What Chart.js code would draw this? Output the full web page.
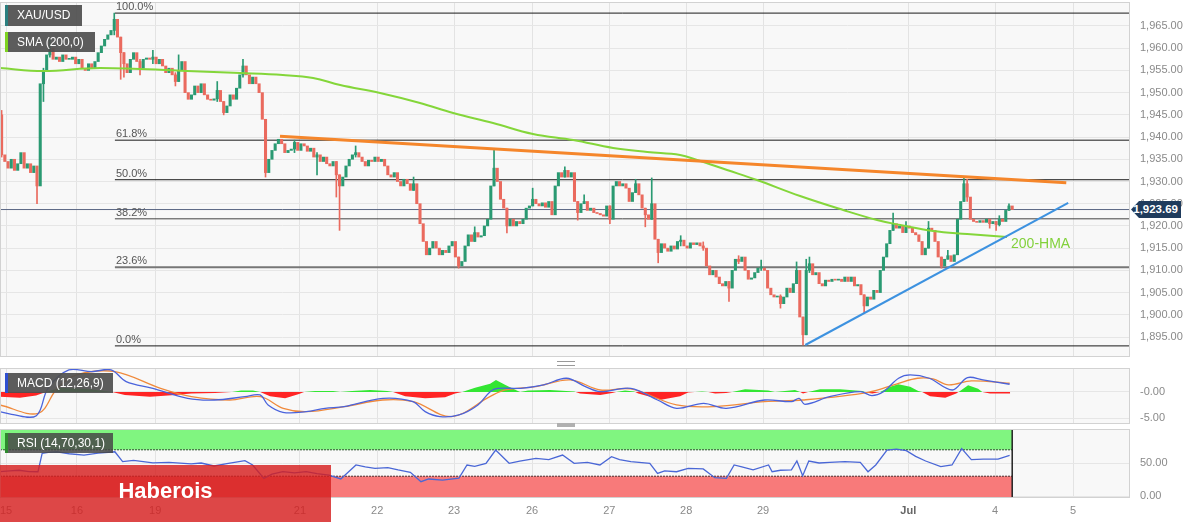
<!DOCTYPE html>
<html><head><meta charset="utf-8">
<script src="https://cdn.jsdelivr.net/npm/chart.js@4.4.0/dist/chart.umd.min.js"></script>
<style>
html,body{margin:0;padding:0;background:#fff;}
#wrap{position:relative;width:1200px;height:523px;overflow:hidden;font-family:"Liberation Sans",Arial,sans-serif;}
canvas{position:absolute;left:0;}
.box{position:absolute;left:5px;height:20px;background:rgba(80,80,80,0.93);color:#fff;font-size:12px;line-height:20px;padding-left:9px;box-sizing:border-box;border-left:3px solid #2a7f7f;white-space:nowrap;}
.fib{position:absolute;font-size:11px;color:#555;line-height:11px;white-space:nowrap;}
#tag{position:absolute;left:1131px;width:50px;height:17px;background:#1f3b5c;color:#fff;font-size:11.5px;font-weight:bold;line-height:17px;text-align:right;padding-right:3px;box-sizing:border-box;clip-path:polygon(0 50%,8px 0,100% 0,100% 100%,8px 100%);}
#hma{position:absolute;font-size:14px;color:#82d13c;white-space:nowrap;}
#hab{position:absolute;left:0;top:465px;width:331px;height:57px;background:rgba(214,30,30,0.82);color:#fff;font-size:22px;font-weight:bold;line-height:52px;text-align:center;}
.hdl{position:absolute;left:557px;width:18px;}
</style></head>
<body><div id="wrap">
<canvas id="cMain" width="1200" height="358" style="top:0"></canvas>
<canvas id="cMacd" width="1200" height="60" style="top:366px"></canvas>
<canvas id="cRsi" width="1200" height="96" style="top:427px"></canvas>
<div class="hdl" style="top:361px;height:3px;border-top:1px solid #999;border-bottom:1px solid #999;"></div>
<div class="hdl" style="top:423px;height:4px;background:#b0b0b0;"></div>
<div class="box" style="top:5px;width:77px;height:21px;line-height:21px;border-left-color:#2a7f7f;">XAU/USD</div>
<div class="box" style="top:32px;width:90px;border-left-color:#7ed321;">SMA (200,0)</div>
<div class="box" style="top:373px;width:108px;border-left-color:#2f4fd0;">MACD (12,26,9)</div>
<div class="box" style="top:433px;width:108px;background:rgba(70,70,70,0.85);border-left-color:#2e8b2e;">RSI (14,70,30,1)</div>
<div id="fibLabels"></div>
<div id="tag"></div>
<div id="hma">200-HMA</div>
<div id="hab">Haberois</div>
</div>
<script>
// ---------- data ----------
const tickPos=[1.4,23.4,47.7,92.7,116.7,140.6,164.8,188.8,212.7,236.6,281.7,308.7,332.9];
const tickLabels=['15','16','19','21','22','23','26','27','28','29','Jul','4','5'];
const priceTicks=[1895,1900,1905,1910,1915,1920,1925,1930,1935,1940,1945,1950,1955,1960,1965];
const macdTicks=[-5,0];
const macdTickLabels=['-5.00','-0.00'];
const rsiTicks=[0,50];
const rsiTickLabels=['0.00','50.00'];

const firstOpen=1945;
const closes=[
1936,1934.5,1933,1935,1932.5,1934,1936.5,1933,1934,1932,
1933.5,1929,1952,1955,1958.5,1960,1957.5,1958,1957,1958.5,
1957.5,1957.5,1958,1956.5,1957.5,1955.5,1955,1956.5,1955.5,1957,
1959,1960.5,1962,1963,1964,1966.5,1962.5,1959,1956.5,1954.5,
1957.5,1959,1957,1955.5,1957.5,1957.8,1957.5,1958,1956.5,1957.5,
1956,1954.5,1955.5,1954,1952.5,1955,1957,1950,1948.5,1949.5,
1951.5,1950,1952,1949.5,1948.5,1948.3,1948.6,1950.5,1948,1945.5,
1947,1949.5,1948.5,1951,1954,1956,1954,1952,1953.5,1952,
1950,1944,1932,1935,1937,1938.5,1939.5,1938.5,1936.5,1937,
1937.3,1938.8,1937,1938.5,1938,1936.8,1937.5,1935.5,1936,1934.5,
1935.5,1934,1933.5,1934.5,1931.5,1929,1931,1933.5,1935,1936,
1936.5,1935.5,1934.5,1933.5,1934.8,1934.5,1935.5,1934.5,1935,1933.5,
1931.5,1931,1932,1930,1929,1930.5,1929.5,1928,1929.5,1925,
1920.5,1916.5,1913.5,1915,1916.5,1915,1913.5,1914.5,1914,1915.5,
1916.5,1913,1911,1912,1915.5,1918,1916.5,1918.5,1917.5,1917.8,
1920,1921.5,1929,1933,1930,1926,1924,1920,1921.5,1920,
1921,1920.5,1921.5,1924,1924.5,1926,1925,1924.5,1925.2,1924.2,
1925.5,1922.5,1929,1932,1931,1932.5,1931,1932,1925.5,1923,
1925,1925.5,1923.5,1924,1923,1922.8,1922.5,1922.2,1924.5,1921.5,
1929,1930,1929,1929.5,1928.5,1925.5,1927.5,1929.5,1927,1924,
1922.5,1921.5,1925,1917,1914,1916,1915,1914.3,1915.5,1914.8,
1916.5,1916.8,1915.5,1915,1916.2,1915.8,1916.2,1915.5,1915,1911,
1909,1910,1908.5,1907,1906.5,1907.5,1906,1910,1912.5,1912,
1913,1910,1908,1908.3,1909.5,1910.5,1910.5,1910,1906,1904.5,
1904,1904.2,1902.5,1904,1906,1905,1907,1910,1899.5,1895.5,
1910,1911.5,1909,1909.5,1907,1906.5,1907.8,1907.5,1908,1907.8,
1908,1907.5,1908.5,1907.5,1908.5,1906.5,1906.8,1904.5,1902,1904,
1903.5,1905.5,1905,1910,1913,1916,1919,1920.5,1919.5,1920,
1918.5,1920,1919.5,1918.5,1918,1916.5,1913.5,1915,1919.5,1919,
1916.5,1913,1911,1912.5,1913.3,1912,1913.5,1921.5,1925.5,1929.5,
1926.5,1921.5,1921,1920.8,1921.2,1920.8,1921.5,1920.5,1921,1920.3,
1921.5,1921,1923.5,1924.5,1923.69];
// [candle index, high, low] for visible wicks
const wicks=[
[0,1946,1935.5],[11,1931,1925],[13,1955.5,1948],[15,1962,1958],[35,1967.9,1963],[37,1962.5,1953],[38,1959,1953.5],[43,1957.5,1954],[47,1959.5,1956.5],[54,1954.5,1951.5],[55,1958.5,1952.5],[67,1952.5,1948],[69,1948,1945],[75,1957.5,1953.5],[82,1944,1931],[91,1939.3,1936.5],[98,1936.5,1931.5],[104,1934.5,1926.5],[105,1931.5,1919],[110,1938,1935.5],[128,1931,1928],[142,1913,1910.5],[147,1919.8,1916.5],[153,1937,1929],[157,1924,1918.4],[165,1928.5,1924.5],[175,1933.3,1931],[179,1925.5,1921.3],[181,1927,1925],[189,1924.5,1920.5],[197,1930.5,1927.5],[200,1924,1919.8],[202,1930.8,1921.5],[204,1917,1911.7],[211,1917.8,1915.5],[218,1916.4,1914.5],[226,1907.5,1903],[229,1913.3,1911.5],[236,1912.3,1910],[242,1904.5,1901.5],[247,1911.9,1907],[249,1899.5,1893.2],[250,1912.5,1895.5],[251,1913,1909.5],[268,1904.5,1900.5],[277,1922.9,1919],[281,1921,1918.5],[288,1921,1915],[292,1913,1910.5],[294,1914.5,1912.5],[299,1930.8,1925.5],[300,1930.5,1925.5],[307,1921.5,1919.5],[309,1921,1919],[310,1922.3,1920],[313,1925,1923.5]];

const smaX=[-0.5,12.9,30.6,57.6,74.1,87.4,96.8,105.2,117.6,130,140.3,152.7,165.1,177.6,190,200.6,210.8,216.1,225.4,234.7,248.1,261.5,272,279.2,289.4,300,312.4];
const smaY=[1955.55,1954.87,1955.55,1954.87,1954.42,1953.97,1953.3,1951.72,1949.92,1947.67,1945.42,1943.17,1940.69,1939.34,1937.54,1936.64,1935.97,1934.84,1932.59,1930.34,1926.74,1923.59,1921.34,1920.21,1918.86,1918.19,1917.51];

const fibLabels=['100.0%','61.8%','50.0%','38.2%','23.6%','0.0%'];
const fibPrices=[1967.9,1939.3,1930.4,1921.6,1910.7,1893.0];
const fibStart=35.2;
const lastPrice=1923.69;
const resistX=[86.5,330.8], resistY=[1940.2,1929.7];
const supportX=[249.7,331.4], supportY=[1893.2,1925.2];

const macdX=[-0.5,3.1,10.8,14.4,20.9,28,34,38.7,47,57.8,66.1,75.6,80.3,82.8,87.4,94.6,100.5,106.4,118.5,127.8,131.6,136.2,142.1,148,151.8,154.1,161.3,168.4,175.5,181.4,186,195.5,203.8,209.7,218.1,225.2,237.1,245.4,247.8,249.6,257.3,266.8,270.4,274,278.7,282.3,288.2,295.4,300.1,304.9,313.2];
const macdY=[-3.78,-4.3,-4.55,0.7,4.23,3.9,4.23,1.99,0.7,-1.22,-1.54,-0.9,-0.58,-2.5,-3.9,-3.78,-3.14,-2.82,-1.22,-1.86,-3.78,-4.74,-4.42,-2.5,0.06,0.7,0.7,1.35,2.63,1.03,0.06,0.7,-1.54,-3.14,-2.18,-3.14,-1.54,-1.86,-1.22,-2.37,-0.9,0.06,-0.7,0.06,2.63,3.27,2.63,0.38,2.76,2.31,1.48];
const signalX=[-0.5,11.4,17.3,23.3,35.2,49.4,59,70.9,80.4,87.5,94.7,106.5,118.4,127.9,139.8,151.7,156.5,166,176.7,186,195.5,209.7,221.6,237.1,249,269.2,278.7,284.6,289.4,294.2,301.3,313.2];
const signalY=[-2.5,-4.1,0.7,3.27,3.91,0.7,-0.9,-1.54,-0.9,-3.14,-3.78,-2.82,-1.54,-1.86,-4.74,-0.9,0.38,1.03,2.31,0.38,0.58,-2.5,-2.82,-1.86,-1.54,-0.06,1.67,2.63,2.5,1.35,2.12,1.67];
const histX=[-0.5,5.7,10.7,13.8,18.1,27.5,34.3,38.3,46.1,53.9,58.9,66.3,71.6,74.4,78.1,80.3,83.4,88.1,92.4,94,97.4,103,105.2,108.9,114.5,119.8,121.6,125.4,131.6,137.8,140.9,143.1,147.1,151.8,153.6,156.4,158.9,161.1,163.6,170.4,177.9,179.7,186,189.7,191,193.7,196.5,197.8,204.9,210.8,213.3,215.5,217.6,219.5,221.7,225.1,227,231,238.2,240.3,246.5,248.1,249,250.6,254.3,260.5,267.4,268.6,270.5,273,276.1,278.6,282.3,284.8,286,288.5,293.2,296.6,297.8,300.3,303.4,304.7,307.1,313.4];
const histY=[-0.9,-1.1,-0.7,0,0.8,0.5,0,-0.6,-0.9,-0.6,-0.3,-0.2,0,0.3,0.3,0,-0.8,-1.2,-0.4,0,0.2,0.2,0,0.2,0.4,0.2,0,-0.8,-1.2,-1.0,-0.3,0,0.8,1.6,2.3,1.4,0.6,0,0.3,0.4,0.1,-0.3,-0.6,-0.2,0,0.3,0.1,-0.3,-1.5,-0.8,-0.1,0,0.1,0,-0.3,-0.2,0,0.5,0.3,0,0.4,0,-0.3,0,0.5,0.5,0.2,-0.1,-0.3,0,1.0,1.5,1.0,0.2,0,-0.8,-1.1,-0.3,0.2,1.3,0.6,0,-0.3,-0.3];

const rsiX=[-0.5,2.5,5.4,8.5,11.3,12.6,14.5,17.2,21,25.6,30,35.2,37.6,41,47,52,58.9,62,66,70,75.6,78,81.5,84,87.4,91,94.6,98,101.7,105.4,110.1,113,116,120,123.2,127,130.3,132.7,137,142.1,144.6,147,150.5,153.5,157.7,161,166,170,174.3,177.9,182,185.9,189.5,192,195.5,201.4,203.8,206,209.7,213.3,218,221.6,225.2,227.6,230,233.5,238.3,239.4,242,245.4,247.1,248.9,250.8,254,257.3,262,266.8,269.2,271.6,275.1,278,281.1,284,287.1,291.8,295.3,298.3,301.3,305,309.6,313.2];
const rsiY=[36.8,38,39,37,36.8,64.6,66,67,64,62,65,67,52,54,50.3,51,48.6,50,45.5,49,53.5,47,26.8,33,36.8,35,36.8,34,31.8,25.8,47,44,42,43,39.5,36,21.7,25.8,24,27,47,45,49.5,69.7,49.5,53,57,55,62,49.5,51,47,59.5,55,52,49.5,34.3,38,36.8,42,41,27.8,26.8,47,44,39.5,47,36.8,39,39.5,53,30.8,53,50,51,52,51,36.8,47,69.7,71,68.7,60,53,44.5,47,71.7,55,56,56,61.6];

// ---------- build ----------
const FONT='"Liberation Sans", Arial, sans-serif';
const GREEN='#2a9a72', RED='#ea6a5e';
const xMin=-0.5, xMax=350.6;
const opens=closes.map((c,i)=>i===0?firstOpen:closes[i-1]);
const up=i=>closes[i]>=opens[i];
const bodyData=closes.map((c,i)=>({x:i,y:[Math.min(c,opens[i]),Math.max(c,opens[i])]}));
const wickData=wicks.map(w=>({x:w[0],y:[w[2],w[1]]}));
const pts=(xs,ys)=>xs.map((x,i)=>({x:x,y:ys[i]}));
const hline=(x0,x1,v)=>[{x:x0,y:v},{x:x1,y:v}];

const panel={id:'panel',
  beforeDraw(ch){const a=ch.chartArea,c=ch.ctx;c.save();c.fillStyle='#f8f8f8';c.fillRect(a.left,a.top,a.width,a.height);c.restore();},
  afterDraw(ch){const a=ch.chartArea,c=ch.ctx;c.save();c.strokeStyle='#d2d2d2';c.lineWidth=1;c.strokeRect(a.left+0.5,a.top+0.5,a.width-1,a.height-1);c.restore();}};

function xAxis(show){
  return {type:'linear',min:xMin,max:xMax,offset:false,
    afterBuildTicks:s=>{s.ticks=tickPos.map(v=>({value:v}));},
    afterFit:s=>{s.height=show?25:0;s.paddingLeft=0;s.paddingRight=0;},
    grid:{color:'#e3e3e3',drawTicks:false,offset:false},border:{display:false},
    ticks:{display:show,autoSkip:false,maxRotation:0,padding:6,
      color:c=>tickLabels[c.index]==='Jul'?'#666':'#8a8a8a',
      font:c=>({family:FONT,size:11,weight:tickLabels[c.index]==='Jul'?'bold':'normal'}),
      callback:(v,i)=>tickLabels[i]}};
}
function yAxis(min,max,ticks,fmt){
  return {position:'right',min:min,max:max,
    afterBuildTicks:s=>{s.ticks=ticks.map(v=>({value:v}));},
    afterFit:s=>{s.width=70;s.paddingTop=0;s.paddingBottom=0;},
    grid:{color:'#e6e6e6',drawTicks:false},border:{display:false},
    ticks:{padding:10,color:'#8a8a8a',font:{family:FONT,size:11},callback:fmt}};
}
const base=(pad)=>({responsive:false,animation:false,events:[],devicePixelRatio:1,
  layout:{padding:pad},plugins:{legend:{display:false},tooltip:{enabled:false}}});

// main
const mainSets=[];
fibPrices.forEach((p,i)=>{
  mainSets.push({type:'line',data:hline(fibStart,xMax,p),borderColor:i===4?'#777':(i===3?'#444':'#1a1a1a'),borderWidth:i===4?2:1,pointRadius:0,order:10});
});
mainSets.push({type:'line',data:hline(xMin,xMax,lastPrice),borderColor:'#5a6784',borderWidth:1,pointRadius:0,order:9});
mainSets.push({type:'bar',data:wickData,barThickness:1,grouped:false,order:4,
  backgroundColor:c=>up(wickData[c.dataIndex].x)?GREEN:RED});
mainSets.push({type:'bar',data:bodyData,barThickness:2.4,minBarLength:1,grouped:false,order:3,
  backgroundColor:c=>up(c.dataIndex)?GREEN:RED});
mainSets.push({type:'line',data:pts(smaX,smaY),borderColor:'#84d63a',borderWidth:2,pointRadius:0,tension:0.4,order:2});
mainSets.push({type:'line',data:pts(resistX,resistY),borderColor:'#f5862b',borderWidth:3,pointRadius:0,order:1});
mainSets.push({type:'line',data:pts(supportX,supportY),borderColor:'#3d92e0',borderWidth:2,pointRadius:0,order:1});

const fmtPrice=v=>v.toLocaleString('en-US',{minimumFractionDigits:2,maximumFractionDigits:2});
const main=new Chart(document.getElementById('cMain'),{type:'bar',data:{datasets:mainSets},
  options:Object.assign(base({top:2,bottom:1,left:0,right:0}),{
    scales:{x:xAxis(false),y:yAxis(1890.5,1970.4,priceTicks,fmtPrice)}}),plugins:[panel]});

// macd
new Chart(document.getElementById('cMacd'),{type:'line',data:{datasets:[
  {data:pts(histX,histY),borderWidth:0,pointRadius:0,fill:{target:'origin',above:'#33e633',below:'#ff2424'},order:3},
  {data:pts(signalX,signalY),borderColor:'#f08a3c',borderWidth:1.3,pointRadius:0,tension:0.35,order:2},
  {data:pts(macdX,macdY),borderColor:'#4a63dc',borderWidth:1.3,pointRadius:0,tension:0.35,order:1}
]},options:Object.assign(base({top:2,bottom:2,left:0,right:0}),{
  scales:{x:xAxis(false),y:yAxis(-6.15,4.6,macdTicks,(v,i)=>macdTickLabels[i])}}),plugins:[panel]});

// rsi
const lastIdx=closes.length-1;
new Chart(document.getElementById('cRsi'),{type:'line',data:{datasets:[
  {data:hline(xMin,lastIdx,100),borderWidth:0,pointRadius:0,fill:{value:70},backgroundColor:'#80f580',order:9},
  {data:hline(xMin,lastIdx,30),borderWidth:0,pointRadius:0,fill:{value:-1.5},backgroundColor:'#f87a7a',order:9},
  {data:hline(xMin,lastIdx,70),borderColor:'#2a4a2a',borderWidth:1,borderDash:[2,1],pointRadius:0,order:8},
  {data:hline(xMin,lastIdx,30),borderColor:'#4a2a2a',borderWidth:1,borderDash:[2,1],pointRadius:0,order:8},
  {data:[{x:lastIdx,y:-1.5},{x:lastIdx,y:100}],borderColor:'#222',borderWidth:1.5,pointRadius:0,order:7},
  {data:pts(rsiX,rsiY),borderColor:'#4a67d6',borderWidth:1.3,pointRadius:0,order:1}
]},options:Object.assign(base({top:2,bottom:0,left:0,right:0}),{
  scales:{x:xAxis(true),y:yAxis(-3,101.5,rsiTicks,(v,i)=>rsiTickLabels[i])}}),plugins:[panel]});

// html labels placed through the main chart scales
const sx=main.scales.x, sy=main.scales.y;
const fl=document.getElementById('fibLabels');
fibLabels.forEach((t,i)=>{
  const d=document.createElement('div');d.className='fib';d.textContent=t;
  d.style.left=(sx.getPixelForValue(fibStart)+1)+'px';
  d.style.top=(sy.getPixelForValue(fibPrices[i])-12)+'px';fl.appendChild(d);
});
const tag=document.getElementById('tag');
tag.textContent=fmtPrice(lastPrice);
tag.style.top=(sy.getPixelForValue(lastPrice)-8.5)+'px';
const hma=document.getElementById('hma');
hma.style.left=(sx.getPixelForValue(smaX[smaX.length-1])+4)+'px';
hma.style.top=(sy.getPixelForValue(smaY[smaY.length-1])-2)+'px';
</script>
</body></html>
